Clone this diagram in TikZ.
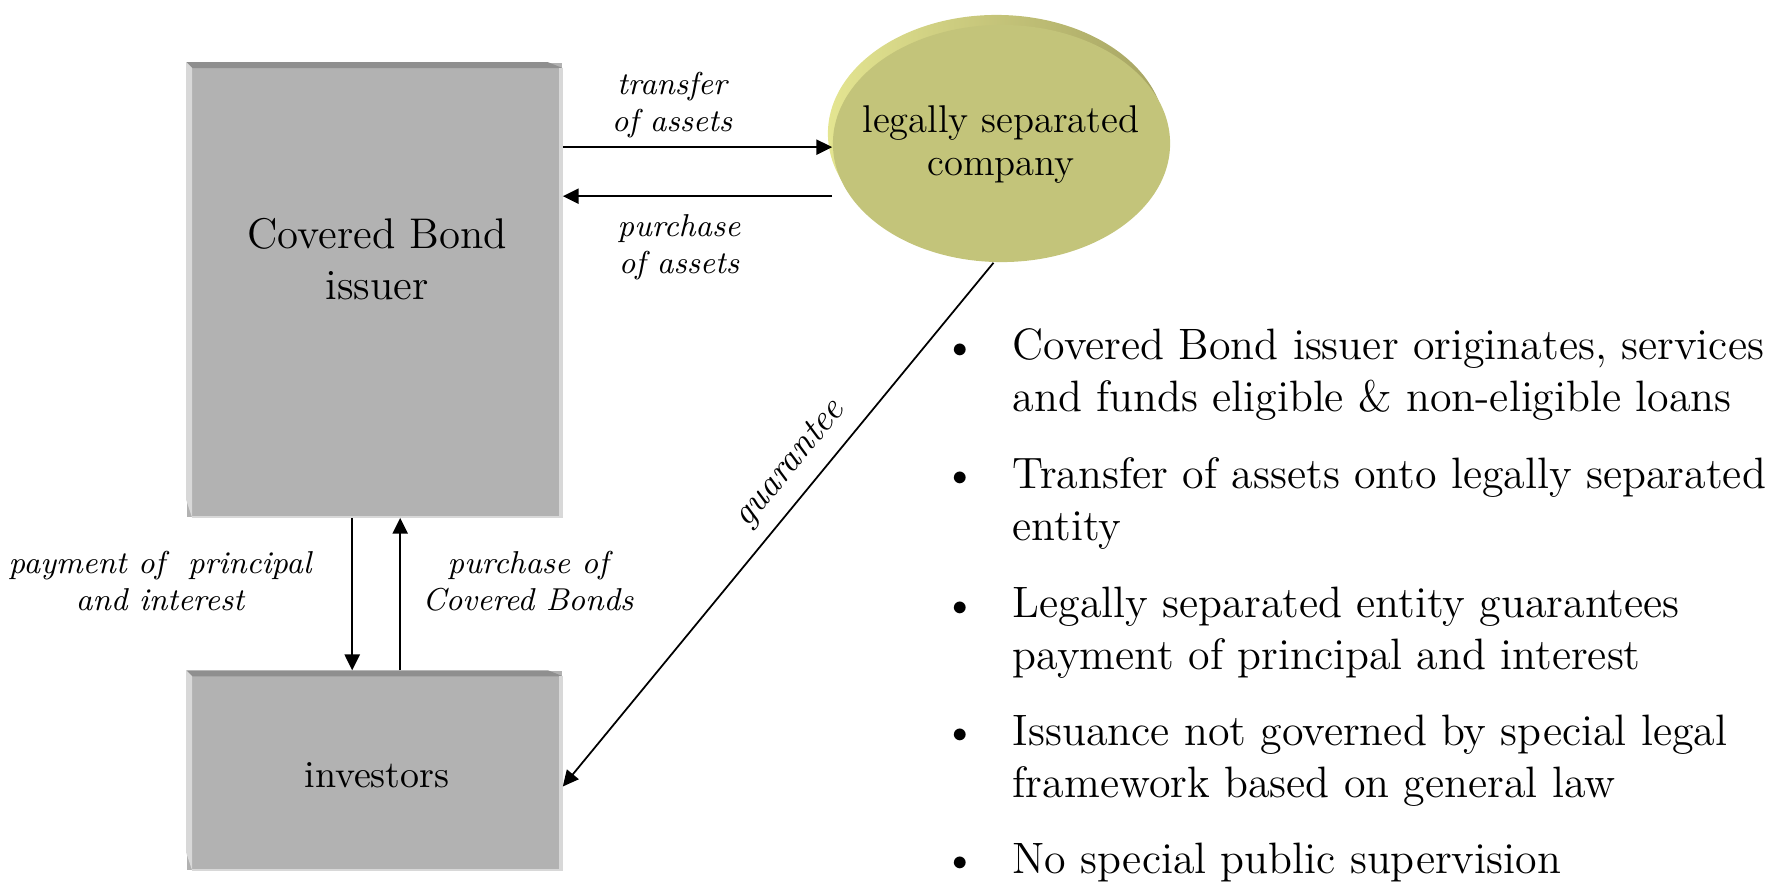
\documentclass[tikz,border=0pt]{standalone}
\usepackage{tikz}
\usetikzlibrary{arrows.meta,calc,shapes.geometric}

\definecolor{boxface}{RGB}{178,178,178}
\definecolor{boxtop}{RGB}{143,143,143}
\definecolor{boxside}{RGB}{216,216,216}
\definecolor{eggface}{RGB}{195,196,122}
\definecolor{rimlight}{RGB}{228,229,145}
\definecolor{rimdark}{RGB}{165,163,98}

\tikzset{
  flow/.style={-{Triangle[length=4.5pt,width=4.3pt]}, line width=0.6pt},
  boxnode/.style={rectangle, fill=boxface, inner sep=0pt},
  nodetext/.style={align=center, inner sep=0pt, anchor=base},
  flowlabel/.style={font=\fontsize{9}{10.5}\selectfont\itshape, align=center, inner sep=0pt, anchor=base},
  bullettext/.style={font=\fontsize{12.5}{14.65}\selectfont, align=left, inner sep=0pt, anchor=base west},
  bulletdot/.style={font=\fontsize{12.5}{14.65}\selectfont, inner sep=0pt, anchor=base}
}

\begin{document}
\begin{tikzpicture}[x=0.01cm,y=-0.01cm]
\useasboundingbox (0,0) rectangle (1790,881);

% the two grey blocks
\node[boxnode, minimum width=3.75cm, minimum height=4.54cm] (issuer) at (374.5,290) {};
\node[boxnode, minimum width=3.75cm, minimum height=1.99cm] (investors) at (374.5,770.5) {};
\foreach \bx in {issuer,investors}{
  \fill[boxtop] (\bx.north west) -- ($(\bx.north east)+(-15,0)$) -- ($(\bx.north east)+(0,6)$) -- ($(\bx.north west)+(6,6)$) -- cycle;
  \fill[boxside] (\bx.north west) -- ($(\bx.north west)+(6,6)$) -- ($(\bx.south west)+(6,0)$) -- ($(\bx.south west)+(0,-18)$) -- cycle;
  \fill[boxside] ($(\bx.north east)+(-4,6)$) rectangle (\bx.south east);
  \fill[boxside] ($(\bx.south west)+(6,-2)$) rectangle (\bx.south east);
}
\node[nodetext, font=\fontsize{12.2}{14.5}\selectfont] (issuertext) at (377,299) {Covered Bond\\issuer};
\node[nodetext, font=\fontsize{10.8}{12.5}\selectfont] (investorstext) at (377,787) {investors};

% the company disc
\shade[left color=rimlight, right color=rimdark] (996.5,133.5) ellipse [x radius=1.685cm, y radius=1.185cm];
\node[ellipse, fill=eggface, minimum width=3.37cm, minimum height=2.37cm, inner sep=0pt] (company) at (1001.5,143.5) {};
\node[nodetext, font=\fontsize{11}{12.2}\selectfont] (companytext) at (1001,175) {legally separated\\company};

% flows
\draw[flow] ($(issuer.north east)+(0,85)$) coordinate (ta) -- (ta -| company.west);
\coordinate (pa) at ($(issuer.north east)+(0,134)$);
\draw[flow] (pa -| company.west) -- (pa);
\node[flowlabel] (transferlbl) at (672,131) {transfer\\of assets};
\node[flowlabel] (purchaselbl) at (679,273) {purchase\\of assets};

\draw[flow] ($(issuer.south west)+(166,0)$) coordinate (pd) -- (pd |- investors.north);
\draw[flow] ($(investors.north west)+(214,0)$) coordinate (pu) -- (pu |- issuer.south);
\node[flowlabel] (paymentlbl) at (160,610) {payment of~ principal\\and interest};
\node[flowlabel] (bondslbl) at (528,610) {purchase of\\Covered Bonds};

\draw[flow, line width=0.5pt] ($(company.south)+(-8,0)$) -- node[sloped, pos=0.42, above=2.5pt, font=\fontsize{10.5}{12}\selectfont\itshape, inner sep=1pt] (guaranteelbl) {guarantee} ($(investors.east)+(0,16)$);

% bullet list
\foreach \yb/\yl/\txt [count=\i] in {
  360/411/{Covered Bond issuer originates, services\\and funds eligible \& non-eligible loans},
  488/540/{Transfer of assets onto legally separated\\entity},
  618/669/{Legally separated entity guarantees\\payment of principal and interest},
  745/797/{Issuance not governed by special legal\\framework based on general law},
  873/873/{No special public supervision}}{
  \node[bulletdot] (dot\i) at (960,\yb) {\textbullet};
  \node[bullettext] (item\i) at (1012,\yl) {\txt};
}
\end{tikzpicture}
\end{document}
